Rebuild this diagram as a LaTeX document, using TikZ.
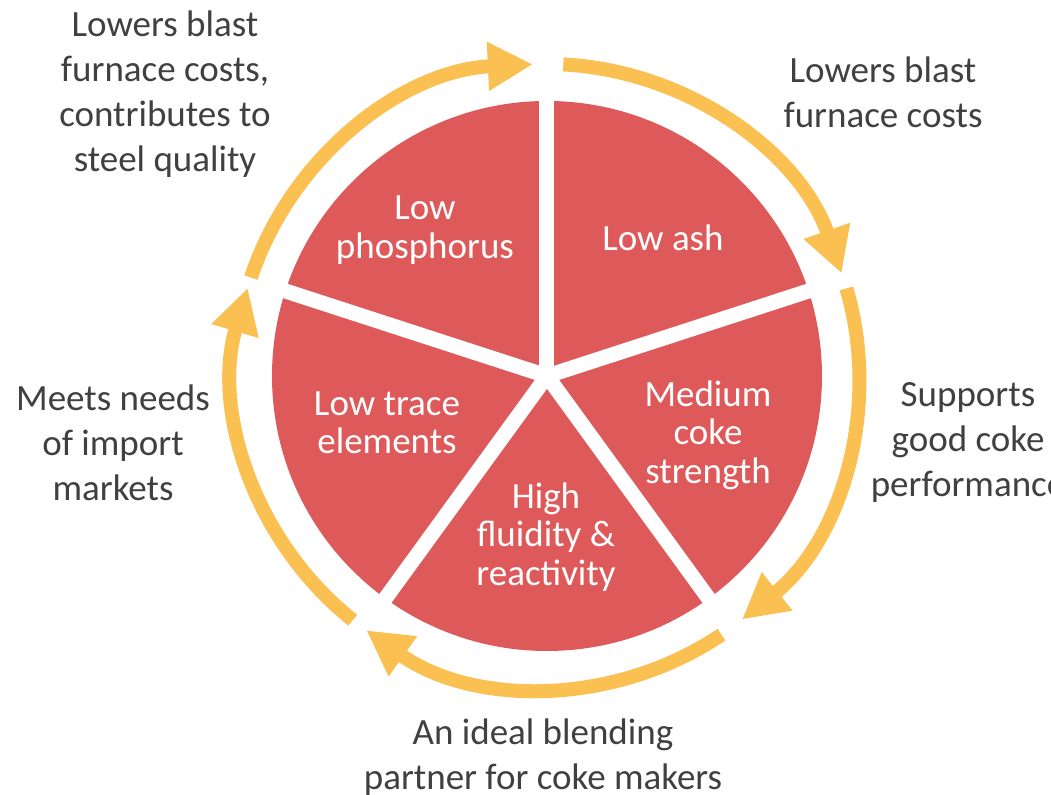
\documentclass[tikz,border=0pt]{standalone}
\usepackage{fontspec}
\setmainfont{Carlito}
\usetikzlibrary{arrows.meta}

\definecolor{wedgeRed}{RGB}{222,89,89}
\definecolor{ringGold}{RGB}{250,192,82}
\definecolor{noteGray}{RGB}{64,64,64}

\newlength\pieRadius
\newlength\ringRadius
\newlength\gapLength
\setlength\pieRadius{137.5pt}
\setlength\ringRadius{156pt}
\setlength\gapLength{145pt}

\begin{document}
\begin{tikzpicture}[
    ring/.style={draw=ringGold, line width=7pt, -{Triangle[length=22.5pt,width=23pt]}},
    wedgeText/.style={text=white, align=center, font=\fontsize{18.5pt}{19.2pt}\selectfont},
    noteText/.style={text=noteGray, align=center, font=\fontsize{18.5pt}{22.5pt}\selectfont}
  ]
    \useasboundingbox (-273.5pt,-209.5pt) rectangle (252pt,188pt);

    % pie with white gaps between the wedges
    \fill[wedgeRed] (0,0) circle (\pieRadius);
    \foreach \a in {90,18,-54,-126,162} {
      \draw[white, line width=7.5pt] (0,0) -- (\a:\gapLength);
    }

    % wedge labels
    \foreach \name/\x/\y/\txt in {ash/58/69/{Low ash},
        phos/-61/73/{Low\\ phosphorus},
        coke/80.5/-29.5/{Medium\\ coke\\ strength},
        fluid/-0.5/-80.5/{High\\ fluidity \&\\ reactivity},
        trace/-80/-23.5/{Low trace\\ elements}} {
      \node[wedgeText] (\name) at (\x pt,\y pt) {\txt};
    }

    % arrows round the pie
    \foreach \s/\e in {87/19.2,16.3/-51.3,-56/-125.4,-128.5/-196.4,161.6/92.6} {
      \draw[ring] (\s:\ringRadius) arc[start angle=\s, end angle=\e, radius=\ringRadius];
    }

    % notes outside the ring
    \foreach \name/\x/\y/\txt in {steel/-191/141/{Lowers blast\\ furnace costs,\\ contributes to\\ steel quality},
        furnace/168/142/{Lowers blast\\ furnace costs},
        support/210.5/-33/{Supports\\ good coke\\ performance},
        market/-217/-33.5/{Meets needs\\ of import\\ markets},
        blend/-2/-190.5/{An ideal blending\\ partner for coke makers}} {
      \node[noteText] (\name) at (\x pt,\y pt) {\txt};
    }
\end{tikzpicture}
\end{document}
